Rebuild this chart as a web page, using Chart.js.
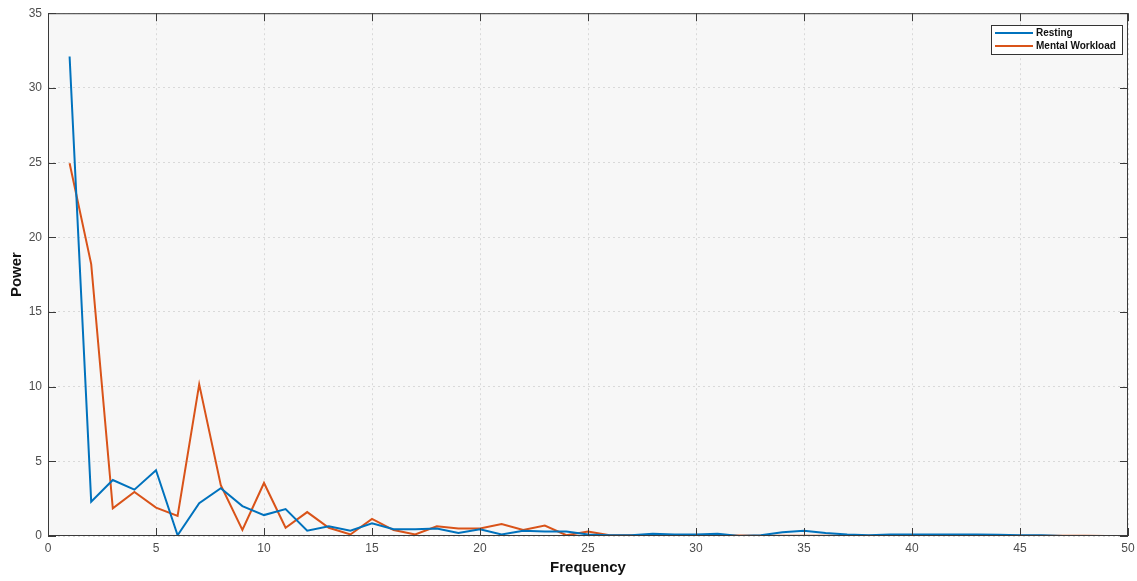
<!DOCTYPE html>
<html>
<head>
<meta charset="utf-8">
<script src="https://cdn.jsdelivr.net/npm/chart.js@4.4.1/dist/chart.umd.min.js"></script>
<style>
  html, body { margin: 0; padding: 0; background: #fff; }
  #wrap { width: 1137px; height: 581px; }
</style>
</head>
<body>
<div id="wrap"><canvas id="chart"></canvas></div>
<script>
const freqs = [1,2,3,4,5,6,7,8,9,10,11,12,13,14,15,16,17,18,19,20,21,22,23,24,25,
  26,27,28,29,30,31,32,33,34,35,36,37,38,39,40,41,42,43,44,45,46,47,48,49];

const resting = [32.1,2.3,3.75,3.1,4.4,0.05,2.2,3.2,2.0,1.4,1.8,0.35,0.65,0.35,0.85,0.45,0.45,0.5,0.2,0.45,
  0.1,0.35,0.3,0.3,0.1,0.05,0.05,0.15,0.1,0.1,0.15,0.0,0.05,0.25,0.35,0.2,0.1,0.05,0.1,0.1,
  0.1,0.1,0.1,0.08,0.05,0.05,0.0,0.0,0.0];

const mental = [24.95,18.2,1.85,2.95,1.9,1.35,10.15,3.4,0.4,3.55,0.55,1.6,0.55,0.1,1.15,0.4,0.1,0.65,0.5,0.5,
  0.8,0.4,0.7,0.05,0.3,0.05,0.05,0.03,0.03,0.03,0.03,0.03,0.02,0.02,0.02,0.02,0.02,0.02,0.02,0.02,
  0.02,0.02,0.02,0.02,0.02,0.01,0.01,0.01,0.0];

const seriesNames = ['Resting', 'Mental Workload'];
const seriesColors = ['#0072BD', '#D95319'];

// plot frame, inward ticks and the boxed legend, MATLAB style
const frame = {
  id: 'frame',
  beforeDraw(chart) {
    const { ctx, chartArea: a } = chart;
    ctx.save();
    ctx.fillStyle = '#f7f7f7';
    ctx.fillRect(a.left, a.top, a.right - a.left, a.bottom - a.top);
    ctx.restore();
  },
  afterDraw(chart) {
    const { ctx, chartArea: a, scales } = chart;
    ctx.save();
    ctx.strokeStyle = '#3a3a3a';
    ctx.lineWidth = 1;
    ctx.strokeRect(a.left + 0.5, a.top + 0.5, a.right - a.left - 1, a.bottom - a.top - 1);
    ctx.beginPath();
    scales.x.ticks.forEach(t => {
      const px = Math.round(scales.x.getPixelForValue(t.value)) + 0.5;
      ctx.moveTo(px, a.bottom); ctx.lineTo(px, a.bottom - 8);
      ctx.moveTo(px, a.top); ctx.lineTo(px, a.top + 8);
    });
    scales.y.ticks.forEach(t => {
      const py = Math.round(scales.y.getPixelForValue(t.value)) + 0.5;
      ctx.moveTo(a.left, py); ctx.lineTo(a.left + 8, py);
      ctx.moveTo(a.right, py); ctx.lineTo(a.right - 8, py);
    });
    ctx.stroke();

    // legend
    const lx = 991, ly = 25, lw = 131, lh = 29;
    ctx.fillStyle = '#ffffff';
    ctx.fillRect(lx, ly, lw, lh);
    ctx.strokeStyle = '#333';
    ctx.strokeRect(lx + 0.5, ly + 0.5, lw, lh);
    ctx.font = 'bold 10px "Liberation Sans", Arial, sans-serif';
    ctx.textBaseline = 'middle';
    chart.data.datasets.forEach((ds, i) => {
      const y = ly + 8 + i * 13;
      ctx.strokeStyle = ds.borderColor;
      ctx.lineWidth = 2;
      ctx.beginPath();
      ctx.moveTo(lx + 4, y); ctx.lineTo(lx + 42, y);
      ctx.stroke();
      ctx.fillStyle = '#111';
      ctx.fillText(ds.label, lx + 45, y + 0.5);
    });
    ctx.restore();
  }
};

new Chart(document.getElementById('chart'), {
  type: 'line',
  data: {
    datasets: seriesNames.map((name, i) => ({
      label: name,
      data: freqs.map((f, j) => ({ x: f, y: (i === 0 ? resting : mental)[j] })),
      borderColor: seriesColors[i],
      backgroundColor: seriesColors[i],
      borderWidth: 2,
      pointRadius: 0,
      tension: 0,
      fill: false
    }))
  },
  options: {
    responsive: true,
    maintainAspectRatio: false,
    animation: false,
    layout: { padding: { left: 0, right: 9, top: 12, bottom: 0 } },
    plugins: { legend: { display: false }, tooltip: { enabled: false } },
    scales: {
      x: {
        type: 'linear',
        min: 0, max: 50,
        afterFit: s => { s.height = 45; s.paddingRight = 0; },
        ticks: { stepSize: 5, padding: 5, color: '#4d4d4d', font: { size: 12, family: '"Liberation Sans", Arial, sans-serif' } },
        grid: { color: '#d9d9d9', drawTicks: false },
        border: { display: false, dash: [2, 3] },
        title: { display: true, text: 'Frequency', color: '#111', padding: { top: 4, bottom: 4 },
          font: { size: 15, weight: 'bold', family: '"Liberation Sans", Arial, sans-serif' } }
      },
      y: {
        min: 0, max: 35,
        afterFit: s => { s.width = 48; },
        ticks: { stepSize: 5, padding: 6, color: '#4d4d4d', font: { size: 12, family: '"Liberation Sans", Arial, sans-serif' } },
        grid: { color: '#d9d9d9', drawTicks: false },
        border: { display: false, dash: [2, 3] },
        title: { display: true, text: 'Power', color: '#111', padding: { top: 8, bottom: 4 },
          font: { size: 15, weight: 'bold', family: '"Liberation Sans", Arial, sans-serif' } }
      }
    }
  },
  plugins: [frame]
});
</script>
</body>
</html>
